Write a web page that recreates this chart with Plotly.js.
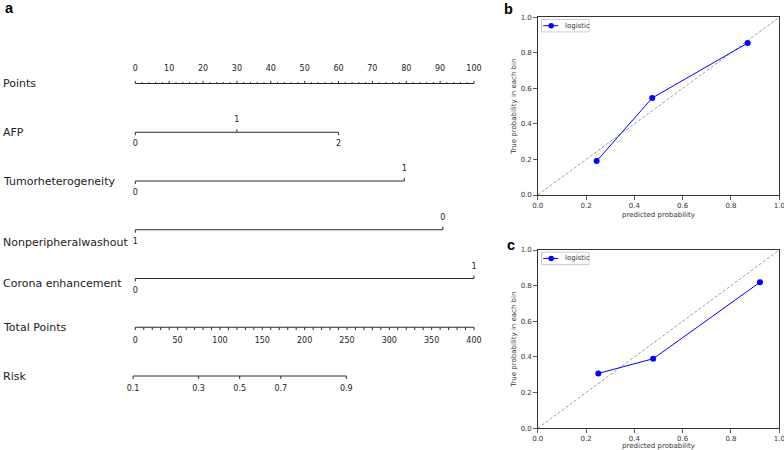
<!DOCTYPE html>
<html><head><meta charset="utf-8">
<script src="https://cdn.plot.ly/plotly-3.0.1.min.js"></script>
<style>html,body{margin:0;padding:0;background:#fff;}#chart{width:784px;height:450px;}</style>
</head><body><div id="chart"></div>
<script>
// ---------------- Panel a : nomogram ----------------
const pointsTicks = [0,10,20,30,40,50,60,70,80,90,100];
const pointsTickLabels = ["0","10","20","30","40","50","60","70","80","90","100"];
const afpLevels = ["0","1","2"];
const afpPoints = [0,30,60];
const tumorLevels = ["0","1"];
const tumorPoints = [0,79.4];
const washoutLevels = ["1","0"];
const washoutPoints = [0,90.8];
const coronaLevels = ["0","1"];
const coronaPoints = [0,100];
const totalPointsTicks = [0,50,100,150,200,250,300,350,400];
const totalPointsTickLabels = ["0","50","100","150","200","250","300","350","400"];
const riskTicks = [0.1,0.3,0.5,0.7,0.9];
const riskTickLabels = ["0.1","0.3","0.5","0.7","0.9"];
// logit(risk) = (totalPoints - riskMidPoints) / pointsPerLogit
const riskMidPoints = 123.3;
const pointsPerLogit = 57.3;
const maxTotalPoints = 400;
const rowNames = ["Points","AFP","Tumorheterogeneity","Nonperipheralwashout","Corona enhancement","Total Points","Risk"];

// ---------------- Panels b, c : calibration ----------------
const calibBPred = [0.244, 0.474, 0.869];
const calibBTrue = [0.191, 0.546, 0.855];
const calibCPred = [0.251, 0.478, 0.920];
const calibCTrue = [0.308, 0.390, 0.819];
const diagonal = [0, 1];
const probTicks = [0,0.2,0.4,0.6,0.8,1.0];
const probTickLabels = ["0.0","0.2","0.4","0.6","0.8","1.0"];
const seriesName = "logistic";

// ---------------- layout helpers ----------------
const W = 784, H = 450;
const rowTopPx = 83.5, rowPx = 48.75;
const dy = px => px / rowPx;
const xPxPerPt = 3.387, x0Px = 135.3, aWidth = 500;
const xr0 = -x0Px / xPxPerPt, xr1 = xr0 + aWidth / xPxPerPt;
const yr = [(H - rowTopPx) / rowPx, -rowTopPx / rowPx];
const lineCol = '#2a2a2a', txtCol = '#222';
const tickFont = {family:'DejaVu Sans', size:8, color:txtCol};

const segX = [], segY = [];
function seg(xa, ya, xb, yb){ segX.push(xa, xb, null); segY.push(ya, yb, null); }
const tx = [], ty = [], tt = [];
function label(x, y, t){ tx.push(x); ty.push(y); tt.push(t); }

// Points axis (row 0)
seg(pointsTicks[0], 0, pointsTicks[pointsTicks.length-1], 0);
for (let p = 0; p <= 100; p += 2) {
  const major = pointsTicks.indexOf(p) >= 0;
  seg(p, 0, p, -dy(major ? 2.6 : 1.3));
}
pointsTicks.forEach((p,i) => label(p, -dy(14.5), pointsTickLabels[i]));

// Variables (rows 1-4)
const vars = [[afpLevels, afpPoints],[tumorLevels, tumorPoints],[washoutLevels, washoutPoints],[coronaLevels, coronaPoints]];
vars.forEach(([lv, pts], k) => {
  const row = k + 1;
  seg(Math.min(...pts), row, Math.max(...pts), row);
  const order = pts.map((p,i)=>i).sort((a,b)=>pts[a]-pts[b]);
  order.forEach((i, j) => {
    const up = j % 2 === 1;
    seg(pts[i], row, pts[i], row + (up ? -dy(3) : dy(3)));
    label(pts[i], row + (up ? -dy(12) : dy(12)), lv[i]);
  });
});

// Total points axis (row 5)
const tp2x = tp => tp * 100 / maxTotalPoints;
seg(tp2x(0), 5, tp2x(maxTotalPoints), 5);
for (let tp = 0; tp <= maxTotalPoints; tp += 10) seg(tp2x(tp), 5, tp2x(tp), 5 + dy(2.8));
totalPointsTicks.forEach((tp,i) => label(tp2x(tp), 5 + dy(13.3), totalPointsTickLabels[i]));

// Risk axis (row 6)
const risk2x = p => tp2x(riskMidPoints + pointsPerLogit * Math.log(p/(1-p)));
seg(risk2x(riskTicks[0]), 6, risk2x(riskTicks[riskTicks.length-1]), 6);
riskTicks.forEach((p,i) => { seg(risk2x(p), 6, risk2x(p), 6 + dy(3)); label(risk2x(p), 6 + dy(13), riskTickLabels[i]); });

const rowLabelOffsetPx = [-0.5, 0, 0, 12.5, 4.5, 0, 0];

// ---------------- calibration panels geometry ----------------
const pLeft = 537.7, pRight = 779.3;
const panels = [
  {ax:'x2', ay:'y2', top:17.3, bottom:195, pred:calibBPred, tru:calibBTrue},
  {ax:'x3', ay:'y3', top:250, bottom:428.3, pred:calibCPred, tru:calibCTrue}
];
// legend box offsets (px) inside each panel
const lg = {left:3.8, top:2.2, w:47.5, h:12.4, symA:5.5, symB:20.5, mark:13.5, text:25};

const traces = [
  {x:segX, y:segY, xaxis:'x', yaxis:'y', mode:'lines', line:{color:lineCol, width:1}, showlegend:false, hoverinfo:'skip'},
  {x:tx, y:ty, text:tt, xaxis:'x', yaxis:'y', mode:'text', textposition:'middle center', textfont:tickFont, showlegend:false, hoverinfo:'skip', cliponaxis:false}
];
const shapes = [];
const annotations = [];
panels.forEach(P => {
  const pw = pRight - pLeft, ph = P.bottom - P.top;
  traces.push({x:diagonal, y:diagonal, xaxis:P.ax, yaxis:P.ay, mode:'lines', line:{color:'#9a9a9a', width:1, dash:'3px,2px'}, showlegend:false, hoverinfo:'skip'});
  traces.push({x:P.pred, y:P.tru, xaxis:P.ax, yaxis:P.ay, mode:'lines+markers', name:seriesName, line:{color:'#0000ff', width:1}, marker:{color:'#0000ff', size:6}, showlegend:false, cliponaxis:false});
  // legend
  shapes.push({type:'rect', xref:'paper', yref:'paper', x0:(pLeft+lg.left)/W, x1:(pLeft+lg.left+lg.w)/W,
    y0:1-(P.top+lg.top)/H, y1:1-(P.top+lg.top+lg.h)/H, line:{color:'#cccccc', width:1}, fillcolor:'#ffffff', layer:'below'});
  const ly = 1 - (lg.top + lg.h/2)/ph;
  traces.push({x:[lg.symA/pw, lg.symB/pw], y:[ly, ly], xaxis:P.ax, yaxis:P.ay, mode:'lines', line:{color:'#0000ff', width:1}, showlegend:false, hoverinfo:'skip', cliponaxis:false});
  traces.push({x:[lg.mark/pw], y:[ly], xaxis:P.ax, yaxis:P.ay, mode:'markers', marker:{color:'#0000ff', size:5.5}, showlegend:false, hoverinfo:'skip', cliponaxis:false});
  annotations.push({text:seriesName, xref:'paper', yref:'paper', x:(pLeft+lg.text)/W, y:1-(P.top+lg.top+lg.h/2)/H,
    xanchor:'left', yanchor:'middle', showarrow:false, font:{family:'DejaVu Sans', size:7, color:'#333'}});
});

rowNames.forEach((n,i) => annotations.push({
  text:n, xref:'paper', yref:'y', x:1/W, y:i + dy(rowLabelOffsetPx[i]) , xanchor:'left', yanchor:'middle',
  showarrow:false, font:{family:'DejaVu Sans', size:11, color:txtCol}
}));
const panelFont = {family:'Liberation Sans', size:14.5, color:'#000'};
[['a',3,8],['b',502,9],['c',505,245]].forEach(([t,px,py]) => annotations.push({
  text:'<b>'+t+'</b>', xref:'paper', yref:'paper', x:px/W, y:1-py/H, xanchor:'left', yanchor:'middle', showarrow:false, font:panelFont
}));

const probAxis = (domain, anchor, title) => ({
  domain, anchor, range:[0,1], tickvals:probTicks, ticktext:probTickLabels,
  ticks:'outside', ticklen:3.5, tickwidth:0.8, tickcolor:'#333', ticklabeloverflow:'allow',
  showline:true, linecolor:'#333', linewidth:1, mirror:true, showgrid:false, zeroline:false,
  tickfont:{family:'DejaVu Sans', size:7, color:'#333'},
  title:{text:title, font:{family:'DejaVu Sans', size:7, color:'#333'}, standoff:3}
});
const bxDom = [pLeft/W, pRight/W];

const layout = {
  width:W, height:H, margin:{l:0,r:0,t:0,b:0}, paper_bgcolor:'#fff', plot_bgcolor:'rgba(0,0,0,0)',
  xaxis:{domain:[0, aWidth/W], range:[xr0, xr1], visible:false, fixedrange:true},
  yaxis:{domain:[0,1], range:yr, visible:false, fixedrange:true},
  xaxis2:probAxis(bxDom, 'y2', 'predicted probability'),
  yaxis2:probAxis([(H-panels[0].bottom)/H, (H-panels[0].top)/H], 'x2', 'True probability in each bin'),
  xaxis3:probAxis(bxDom, 'y3', 'predicted probability'),
  yaxis3:probAxis([(H-panels[1].bottom)/H, (H-panels[1].top)/H], 'x3', 'True probability in each bin'),
  shapes, annotations, showlegend:false
};
Plotly.newPlot('chart', traces, layout, {staticPlot:true, displayModeBar:false});
</script></body></html>
